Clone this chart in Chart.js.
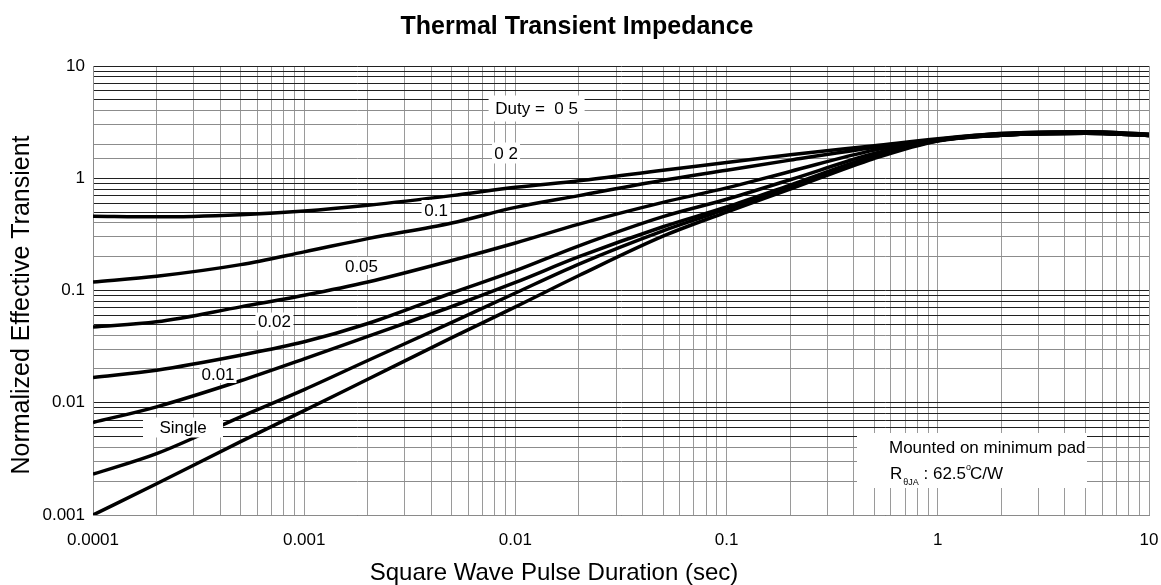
<!DOCTYPE html>
<html>
<head>
<meta charset="utf-8">
<script src="https://cdn.jsdelivr.net/npm/chart.js@4.4.1/dist/chart.umd.min.js"></script>
<style>
  html, body { margin: 0; padding: 0; background: #fff; }
  canvas { display: block; }
</style>
</head>
<body>
<canvas id="chart" width="1161" height="585"></canvas>
<script>
// Pulse durations (s) at which the curves are sampled
const pulseWidths = [1e-4, 2e-4, 5e-4, 1e-3, 2e-3, 5e-3, 1e-2, 2e-2, 5e-2, 0.1, 0.2, 0.5, 1, 2, 5, 10];

// Normalized effective transient thermal impedance, one list per duty cycle
const duty05 = [0.459, 0.453, 0.474, 0.511, 0.575, 0.70, 0.83, 0.95, 1.18, 1.38, 1.62, 1.95, 2.25, 2.5, 2.6, 2.47];
const duty02 = [0.119, 0.134, 0.170, 0.221, 0.290, 0.40, 0.55, 0.70, 0.96, 1.18, 1.45, 1.88, 2.22, 2.5, 2.6, 2.47];
const duty01 = [0.0474, 0.0526, 0.0715, 0.0907, 0.119, 0.185, 0.265, 0.39, 0.61, 0.82, 1.15, 1.78, 2.2, 2.45, 2.55, 2.43];
const duty005 = [0.0168, 0.0195, 0.0265, 0.0349, 0.0508, 0.095, 0.15, 0.25, 0.455, 0.65, 0.97, 1.66, 2.18, 2.42, 2.52, 2.4];
const duty002 = [0.00667, 0.0092, 0.0157, 0.0246, 0.039, 0.072, 0.118, 0.20, 0.37, 0.555, 0.87, 1.58, 2.17, 2.42, 2.52, 2.4];
const duty001 = [0.00231, 0.00352, 0.0075, 0.0131, 0.0238, 0.052, 0.095, 0.172, 0.34, 0.53, 0.84, 1.55, 2.16, 2.42, 2.52, 2.4];
const singlePulse = [0.001, 0.0019, 0.0045, 0.0085, 0.0162, 0.038, 0.0715, 0.136, 0.305, 0.5, 0.8, 1.5, 2.15, 2.42, 2.52, 2.4];

const seriesNames = ['D = 0.5', 'D = 0.2', 'D = 0.1', 'D = 0.05', 'D = 0.02', 'D = 0.01', 'Single Pulse'];
const seriesValues = [duty05, duty02, duty01, duty005, duty002, duty001, singlePulse];

// Axis decades and their labels
const xDecades = [1e-4, 1e-3, 1e-2, 0.1, 1, 10];
const xTickLabels = ['0.0001', '0.001', '0.01', '0.1', '1', '10'];
const yDecades = [1e-3, 1e-2, 0.1, 1, 10];
const yTickLabels = ['0.001', '0.01', '0.1', '1', '10'];

// Text
const chartTitle = 'Thermal Transient Impedance';
const xTitle = 'Square Wave Pulse Duration (sec)';
const yTitle = 'Normalized Effective Transient';
const curveTags = ['Duty =  0 5', '0 2', '0.1', '0.05', '0.02', '0.01', 'Single'];
const noteLine1 = 'Mounted on minimum pad';
const noteLine2 = ['R', '\u03B8JA', ' : 62.5', 'o', 'C/W'];

// Where each curve tag sits (data coordinates) and the size of its white box (px)
const tagPlacement = [
  { x: 0.0126,  y: 4.18,   w: 96, h: 26 },
  { x: 9.03e-3, y: 1.679,  w: 28, h: 21 },
  { x: 4.21e-3, y: 0.5214, w: 29, h: 20 },
  { x: 1.867e-3, y: 0.1653, w: 38, h: 18 },
  { x: 7.23e-4, y: 0.0529, w: 38, h: 18 },
  { x: 3.907e-4, y: 0.01804, w: 37, h: 18 },
  { x: 2.668e-4, y: 6.02e-3, w: 80, h: 20 }
];

const FONT = '"Liberation Sans", Arial, Helvetica, sans-serif';

// Full minor grid: 1..9 x 10^k, plus the extra 1.5 line in the top decade
function logTicks(lo, hi, extra) {
  const out = [];
  for (let k = lo; k < hi; k++) {
    for (let m = 1; m <= 9; m++) out.push(+(m * Math.pow(10, k)).toPrecision(3));
  }
  out.push(Math.pow(10, hi));
  extra.forEach(v => out.push(v));
  return out.sort((a, b) => a - b);
}

function mantissa(v) {
  const k = Math.floor(Math.log10(v) + 1e-9);
  return Math.round(v / Math.pow(10, k) * 10) / 10;
}

function decadeLabel(v, decades, labels) {
  for (let i = 0; i < decades.length; i++) {
    if (Math.abs(Math.log10(v) - Math.log10(decades[i])) < 1e-6) return labels[i];
  }
  return '';
}

const datasets = seriesValues.map((vals, i) => ({
  label: seriesNames[i],
  data: pulseWidths.map((t, j) => ({ x: t, y: vals[j] })),
  borderColor: '#000',
  borderWidth: 3.5,
  pointRadius: 0,
  fill: false,
  tension: 0.4,
  cubicInterpolationMode: 'monotone',
  borderCapStyle: 'butt'
}));

const textPlugin = {
  id: 'chartText',
  afterDatasetsDraw(chart) {
    const { ctx, scales: { x, y }, chartArea } = chart;
    ctx.save();
    // curve tags on white boxes
    ctx.font = '17px ' + FONT;
    ctx.textAlign = 'center';
    ctx.textBaseline = 'middle';
    curveTags.forEach((t, i) => {
      const p = tagPlacement[i];
      const cx = x.getPixelForValue(p.x);
      const cy = y.getPixelForValue(p.y);
      ctx.fillStyle = '#fff';
      ctx.fillRect(cx - p.w / 2, cy - p.h / 2, p.w, p.h);
      ctx.fillStyle = '#000';
      ctx.fillText(t, cx, cy + 1);
    });

    // mounting note
    const bx = chartArea.right - 292, by = chartArea.bottom - 82;
    ctx.fillStyle = '#fff';
    ctx.fillRect(bx, by, 230, 55);
    ctx.fillStyle = '#000';
    ctx.textAlign = 'left';
    ctx.textBaseline = 'alphabetic';
    ctx.font = '17px ' + FONT;
    ctx.fillText(noteLine1, bx + 32, by + 20);
    let tx = bx + 33;
    const base = by + 46;
    ctx.fillText(noteLine2[0], tx, base);
    tx += ctx.measureText(noteLine2[0]).width + 1;
    ctx.font = '9px ' + FONT;
    ctx.fillText(noteLine2[1], tx, base + 6);
    tx += ctx.measureText(noteLine2[1]).width;
    ctx.font = '17px ' + FONT;
    ctx.fillText(noteLine2[2], tx, base);
    tx += ctx.measureText(noteLine2[2]).width;
    ctx.font = '9px ' + FONT;
    ctx.fillText(noteLine2[3], tx, base - 9);
    tx += ctx.measureText(noteLine2[3]).width - 1;
    ctx.font = '17px ' + FONT;
    ctx.fillText(noteLine2[4], tx, base);
    ctx.restore();
  },
  afterDraw(chart) {
    const { ctx } = chart;
    ctx.save();
    ctx.fillStyle = '#000';
    ctx.textAlign = 'center';
    ctx.textBaseline = 'middle';
    ctx.font = 'bold 25px ' + FONT;
    ctx.fillText(chartTitle, 577, 27);
    ctx.font = '24px ' + FONT;
    ctx.fillText(xTitle, 554, 573);
    ctx.translate(22, 305);
    ctx.rotate(-Math.PI / 2);
    ctx.font = '25px ' + FONT;
    ctx.fillText(yTitle, 0, 0);
    ctx.restore();
  }
};

new Chart(document.getElementById('chart'), {
  type: 'line',
  data: { datasets },
  plugins: [textPlugin],
  options: {
    responsive: false,
    animation: false,
    devicePixelRatio: 1,
    layout: { padding: { top: 66, right: 12, left: 0, bottom: 0 } },
    plugins: { legend: { display: false }, tooltip: { enabled: false }, title: { display: false } },
    scales: {
      x: {
        type: 'logarithmic',
        min: 1e-4,
        max: 10,
        afterBuildTicks: s => { s.ticks = logTicks(-4, 1, []).map(v => ({ value: v })); },
        afterFit: s => { s.height = 70; s.paddingLeft = 0; s.paddingRight = 0; },
        grid: { color: '#9a9a9a', lineWidth: 1, drawTicks: false },
        border: { color: '#8a8a8a', width: 1 },
        ticks: {
          autoSkip: false, maxRotation: 0, padding: 15, color: '#000',
          font: { family: FONT, size: 17 },
          callback: v => decadeLabel(v, xDecades, xTickLabels)
        }
      },
      y: {
        type: 'logarithmic',
        min: 1e-3,
        max: 10,
        afterBuildTicks: s => { s.ticks = logTicks(-3, 1, [1.5]).map(v => ({ value: v })); },
        afterFit: s => { s.width = 93; s.paddingTop = 0; s.paddingBottom = 0; },
        grid: {
          drawTicks: false,
          lineWidth: 1,
          color: c => {
            const m = mantissa(c.tick.value);
            return (m === 2 || m === 3 || m === 4 || m === 1.5) ? '#8c8c8c' : '#202020';
          }
        },
        border: { color: '#8a8a8a', width: 1 },
        ticks: {
          autoSkip: false, padding: 8, color: '#000',
          font: { family: FONT, size: 17 },
          callback: v => decadeLabel(v, yDecades, yTickLabels)
        }
      }
    }
  }
});
</script>
</body>
</html>
